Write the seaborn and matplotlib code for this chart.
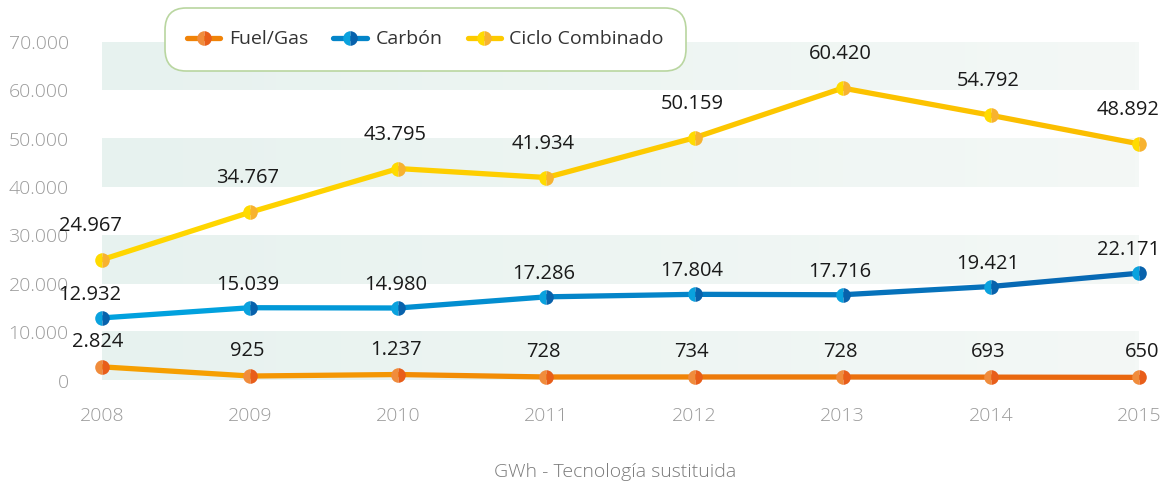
import numpy as np
import pandas as pd
import matplotlib
matplotlib.use("Agg")
import matplotlib.pyplot as plt
from matplotlib.colors import to_rgb, LinearSegmentedColormap
from matplotlib.lines import Line2D
import seaborn as sns

# ---- data (GWh) ----
years = [2008, 2009, 2010, 2011, 2012, 2013, 2014, 2015]
fuel_gas = [2824, 925, 1237, 728, 734, 728, 693, 650]
carbon = [12932, 15039, 14980, 17286, 17804, 17716, 19421, 22171]
ciclo = [24967, 34767, 43795, 41934, 50159, 60420, 54792, 48892]
series_names = ["Fuel/Gas", "Carbón", "Ciclo Combinado"]
yticks = [0, 10000, 20000, 30000, 40000, 50000, 60000, 70000]
title = "GWh - Tecnología sustituida"

# ---- styling ----
style = {
    "Fuel/Gas": dict(line=("#f7a400", "#e8620f"), mark=("#f08c3c", "#e85e1a"), dy=25, dx0=-4),
    "Carbón": dict(line=("#00a6e2", "#0864b0"), mark=("#0aa2de", "#0862ac"), dy=23, dx0=-12),
    "Ciclo Combinado": dict(line=("#ffd800", "#fbbc00"), mark=("#ffdb00", "#f7b230"), dy=34, dx0=-12),
}

sns.set_theme(style="white")
plt.rcParams["font.family"] = ["Open Sans", "DejaVu Sans"]
plt.rcParams["font.weight"] = "light"

W, H = 1163, 486
fig = plt.figure(figsize=(W / 100, H / 100), dpi=100)
x0, x1 = 102, 1139
y0, y1 = 380.5, 41.7
ax = fig.add_axes([x0 / W, 1 - y0 / H, (x1 - x0) / W, (y0 - y1) / H])

# alternating background bands with a soft horizontal fade
band_cmap = LinearSegmentedColormap.from_list("band", ["#e7f2ef", "#f4f8f6"])
grad = np.linspace(0, 1, 256).reshape(1, -1)
for lo in yticks[:-1:2]:
    ax.imshow(grad, cmap=band_cmap, aspect="auto",
              extent=(years[0], years[-1], lo, lo + 10000), zorder=0)


def mix(c1, c2, t):
    a, b = np.array(to_rgb(c1)), np.array(to_rgb(c2))
    return tuple(a + (b - a) * t)


# lines: each segment gets a colour stepping from the light to the dark tone
values = {"Fuel/Gas": fuel_gas, "Carbón": carbon, "Ciclo Combinado": ciclo}
n = len(years)
for name in series_names:
    vals = values[name]
    rows = []
    for i in range(n - 1):
        rows.append((i, years[i], vals[i]))
        rows.append((i, years[i + 1], vals[i + 1]))
    df = pd.DataFrame(rows, columns=["seg", "year", "value"])
    c_light, c_dark = style[name]["line"]
    pal = [mix(c_light, c_dark, (i + 0.5) / (n - 1)) for i in range(n - 1)]
    sns.lineplot(data=df, x="year", y="value", hue="seg", palette=pal,
                 legend=False, linewidth=3.8, ax=ax, zorder=3,
                 solid_capstyle="round", clip_on=False, estimator=None, sort=False)

# half-tone markers and value labels
for name in series_names:
    vals = values[name]
    ml, md = style[name]["mark"]
    ax.plot(years, vals, linestyle="none", marker="o", markersize=10.5,
            fillstyle="left", markerfacecolor=ml, markerfacecoloralt=md,
            markeredgewidth=0, zorder=4, clip_on=False)
    for i, (xv, yv) in enumerate(zip(years, vals)):
        last = i == n - 1
        if last:
            dx, ha = 15, "right"
        elif i == 0:
            dx, ha = style[name]["dx0"] * 0.72, "center"
        else:
            dx, ha = -2, "center"
        ax.annotate(f"{yv:,}".replace(",", "."), (xv, yv),
                    xytext=(dx, style[name]["dy"] * 0.72),
                    textcoords="offset points", ha=ha, va="center",
                    fontsize=14.5, fontweight="normal", color="#1a1a1a",
                    zorder=5)

ax.set_xlim(years[0], years[-1])
ax.set_ylim(0, 70000)
ax.set_xticks(years)
ax.set_xticklabels([str(y) for y in years])
ax.set_yticks(yticks)
ax.set_yticklabels([f"{v:,}".replace(",", ".") for v in yticks])
ax.tick_params(axis="y", length=0, pad=24, labelsize=14, labelcolor="#9a9a9a")
ax.tick_params(axis="x", length=0, pad=19, labelsize=14, labelcolor="#9a9a9a")
ax.set_xlabel("")
ax.set_ylabel("")
for sp in ax.spines.values():
    sp.set_visible(False)
ax.grid(False)
ax.set_facecolor("none")

# legend
handles = []
for name in series_names:
    ml, md = style[name]["mark"]
    c_light, c_dark = style[name]["line"]
    handles.append(Line2D([], [], color=mix(c_light, c_dark, 0.5), linewidth=3.8,
                          marker="o", markersize=10.5, fillstyle="left",
                          markerfacecolor=ml, markerfacecoloralt=md,
                          markeredgewidth=0))
leg = fig.legend(handles, series_names, loc="center",
                 bbox_to_anchor=(425.5 / W, 1 - 39.5 / H),
                 ncol=3, fontsize=14, frameon=True, handlelength=1.7,
                 handletextpad=0.45, columnspacing=1.3, borderpad=1.15,
                 borderaxespad=0)
frame = leg.get_frame()
frame.set_edgecolor("#b9d6a0")
frame.set_linewidth(1.2)
frame.set_facecolor("white")
frame.set_alpha(1)
frame.set_boxstyle("round", pad=0, rounding_size=1.1)
for t in leg.get_texts():
    t.set_color("#333333")
    t.set_fontweight("normal")

fig.text(615 / W, 1 - 472 / H, title, ha="center", va="center",
         fontsize=14, color="#7a7a7a")

fig.savefig("out.png", dpi=100, facecolor="white")
